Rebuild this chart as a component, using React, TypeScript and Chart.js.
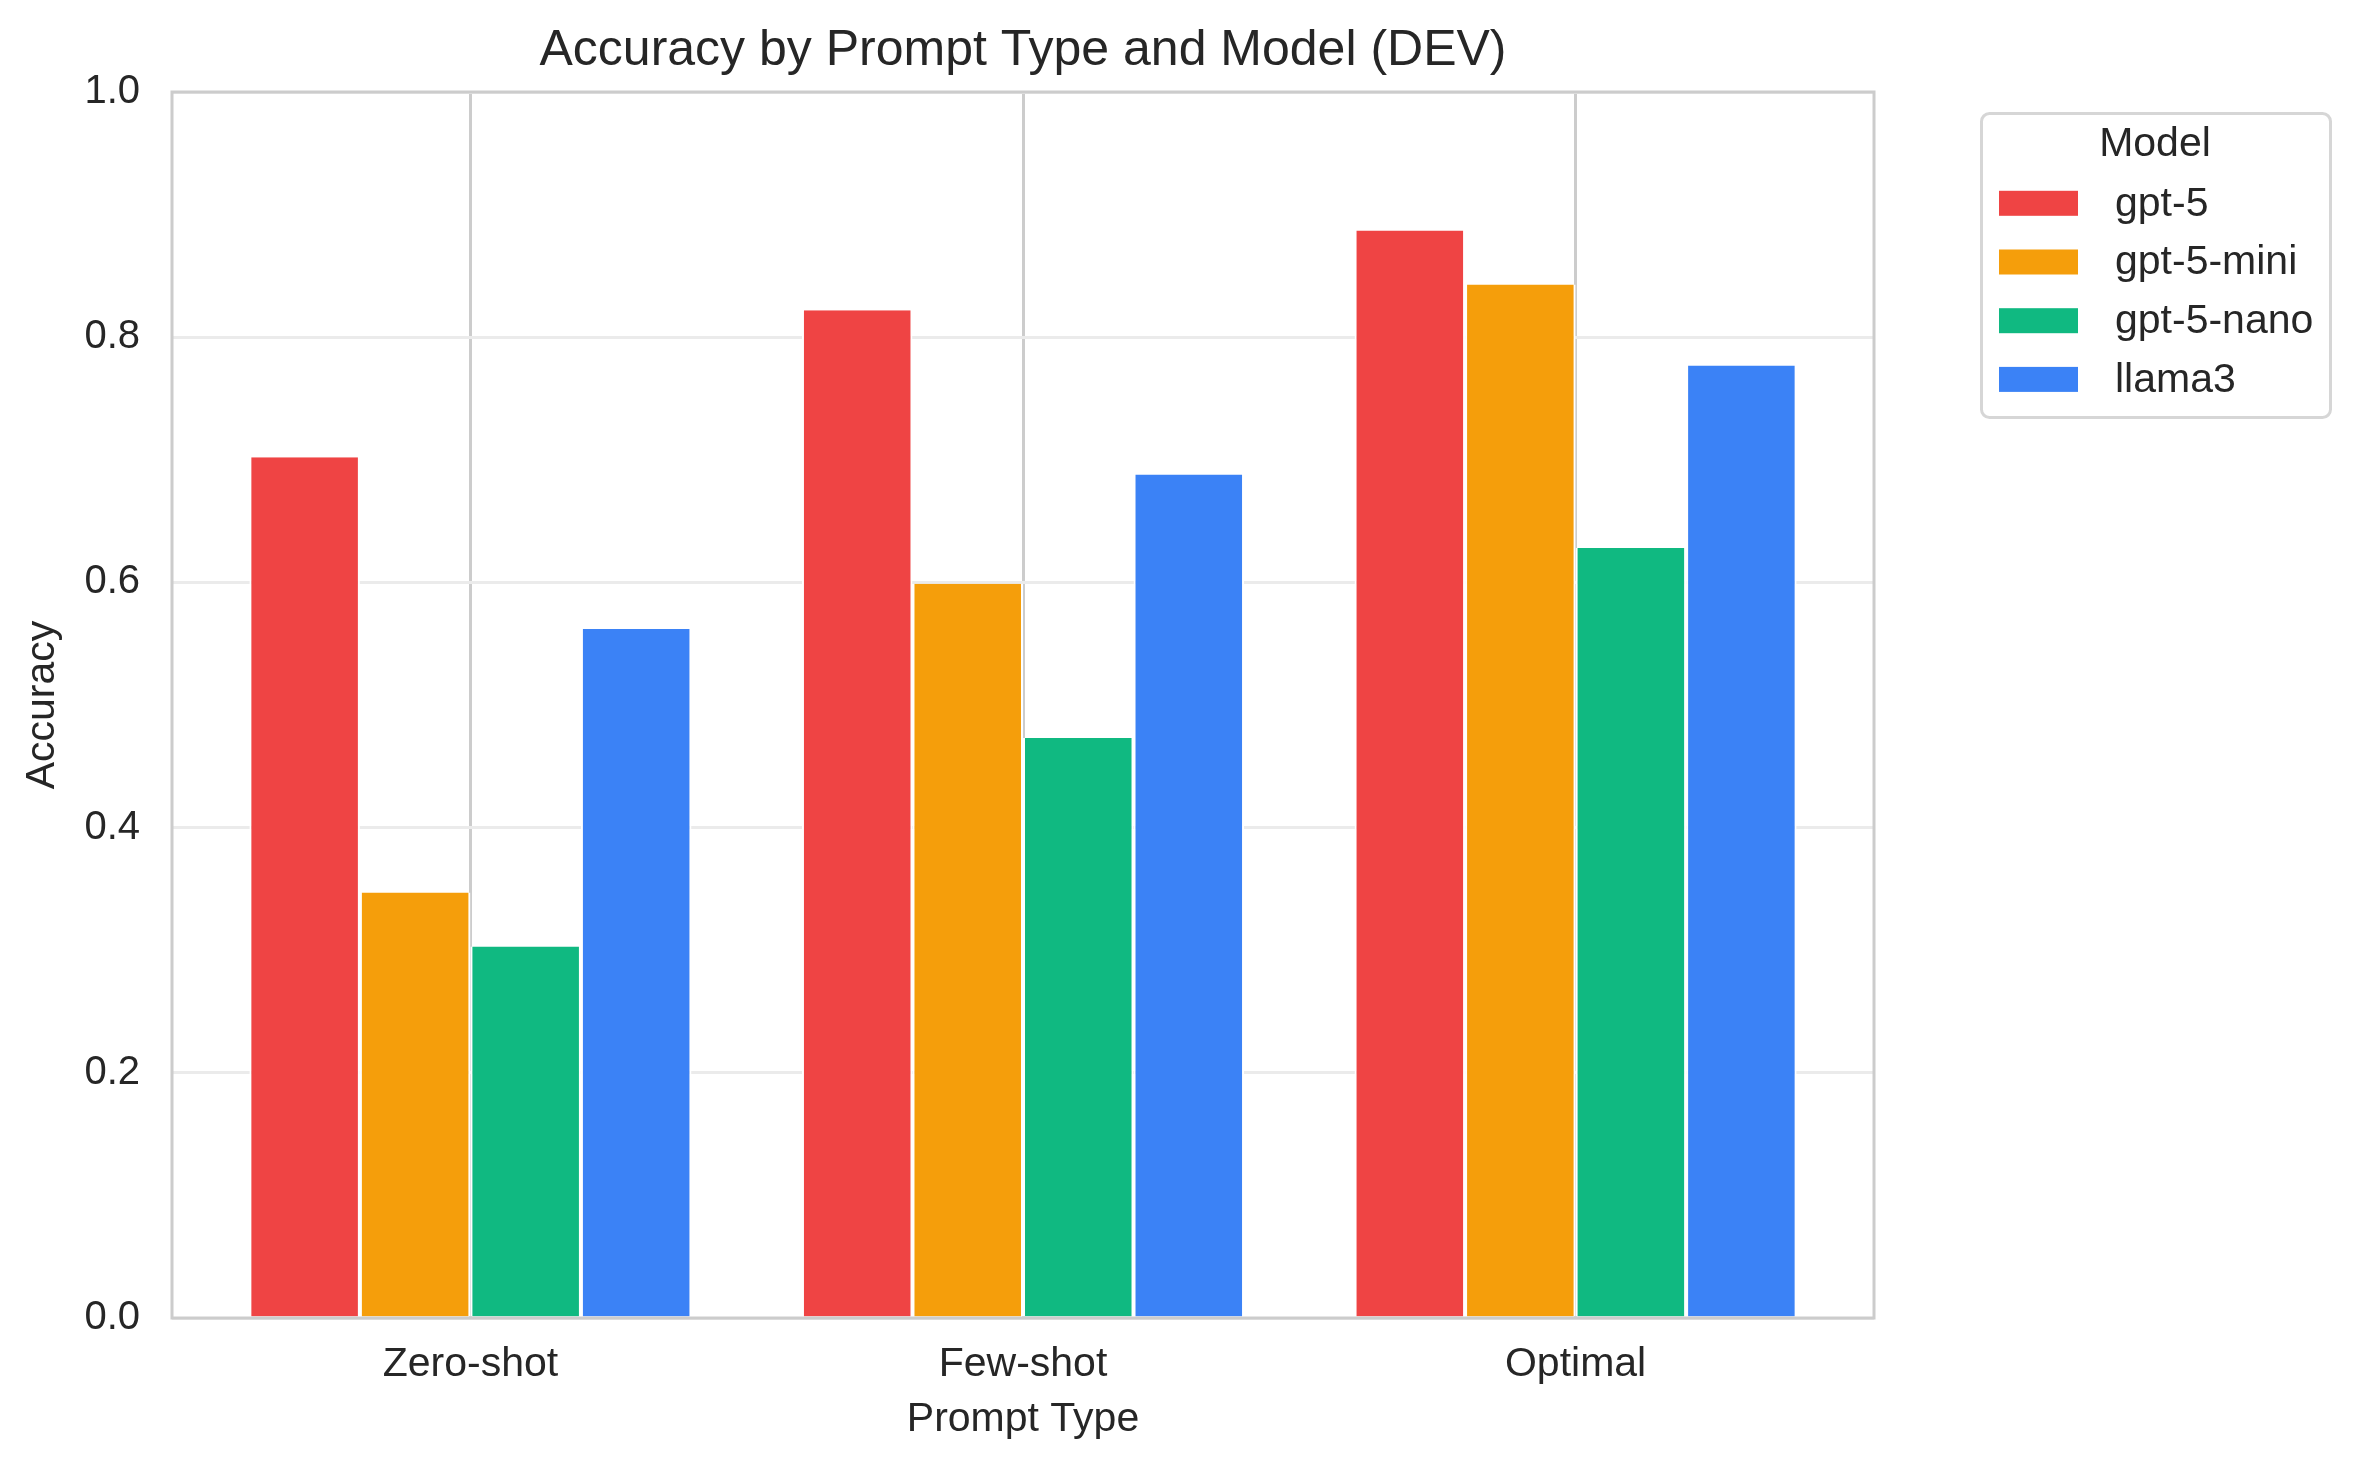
import { useEffect, useRef } from 'react';
import { Chart, registerables } from 'chart.js';

Chart.register(...registerables);

const CATEGORIES = ['Zero-shot', 'Few-shot', 'Optimal'];
const MODELS = ['gpt-5', 'gpt-5-mini', 'gpt-5-nano', 'llama3'];
const GPT5 = [0.702, 0.822, 0.887];
const GPT5_MINI = [0.347, 0.599, 0.843];
const GPT5_NANO = [0.303, 0.473, 0.628];
const LLAMA3 = [0.562, 0.688, 0.777];
const Y_TICKS = [0, 0.2, 0.4, 0.6, 0.8, 1.0];

const SERIES = [GPT5, GPT5_MINI, GPT5_NANO, LLAMA3];
const COLORS = ['#EF4444', '#F59E0B', '#10B981', '#3B82F6'];

const FONT = "'Liberation Sans', Arial, Helvetica, sans-serif";
const TEXT_COLOR = '#262626';

// title, axes frame and the boxed legend on the right
const decorations = {
  id: 'decorations',
  afterDatasetsDraw(chart: any) {
    const { ctx, chartArea: a } = chart;
    ctx.save();
    ctx.strokeStyle = '#cccccc';
    ctx.lineWidth = 3;
    ctx.strokeRect(a.left, a.top, a.right - a.left, a.bottom - a.top);
    ctx.restore();
  },
  afterDraw(chart: any) {
    const { ctx, chartArea: a } = chart;
    ctx.save();
    ctx.fillStyle = TEXT_COLOR;
    ctx.textBaseline = 'middle';

    ctx.font = `50px ${FONT}`;
    ctx.textAlign = 'center';
    ctx.fillText('Accuracy by Prompt Type and Model (DEV)', (a.left + a.right) / 2, 51);

    // legend
    const lx = a.right + 107.5;
    const ly = 113.5;
    const lw = 349;
    const lh = 304;
    ctx.beginPath();
    ctx.roundRect(lx, ly, lw, lh, 8);
    ctx.fillStyle = '#ffffff';
    ctx.fill();
    ctx.strokeStyle = '#d6d6d6';
    ctx.lineWidth = 3;
    ctx.stroke();

    ctx.fillStyle = TEXT_COLOR;
    ctx.font = `41px ${FONT}`;
    ctx.textAlign = 'center';
    ctx.fillText('Model', lx + 173.5, 145);

    ctx.textAlign = 'left';
    MODELS.forEach((name, i) => {
      const cy = 203.3 + i * 58.7;
      ctx.fillStyle = COLORS[i];
      ctx.fillRect(lx + 17.5, cy - 12.5, 79, 25);
      ctx.fillStyle = TEXT_COLOR;
      ctx.fillText(name, lx + 133.5, cy + 1);
    });
    ctx.restore();
  },
};

export default function App() {
  const canvasRef = useRef<HTMLCanvasElement>(null);

  useEffect(() => {
    document.body.style.margin = '0';
    if (!canvasRef.current) return;

    const chart = new Chart(canvasRef.current, {
      type: 'bar',
      data: {
        datasets: MODELS.map((name, i) => ({
          label: name,
          data: SERIES[i].map((y, x) => ({ x, y })),
          backgroundColor: COLORS[i],
          borderColor: '#ffffff',
          borderWidth: { left: 2, right: 2, top: 0, bottom: 0 },
          borderSkipped: false,
          categoryPercentage: 0.8,
          barPercentage: 1.0,
        })),
      },
      options: {
        animation: false,
        responsive: false,
        devicePixelRatio: 1,
        layout: { padding: { top: 92, right: 487, bottom: 0, left: 0 } },
        plugins: {
          legend: { display: false },
          title: { display: false },
          tooltip: { enabled: false },
        },
        scales: {
          x: {
            type: 'linear',
            min: -0.54,
            max: 2.54,
            offset: false,
            afterBuildTicks: (scale: any) => {
              scale.ticks = CATEGORIES.map((_, i) => ({ value: i }));
            },
            afterFit: (scale: any) => {
              scale.height = 152;
            },
            grid: { offset: false, color: '#cccccc', lineWidth: 3, drawTicks: false },
            border: { display: false },
            ticks: {
              padding: 22,
              color: TEXT_COLOR,
              font: { family: FONT, size: 41 },
              callback: (v: any) => CATEGORIES[v] ?? '',
            },
            title: {
              display: true,
              text: 'Prompt Type',
              color: TEXT_COLOR,
              font: { family: FONT, size: 41 },
              padding: { top: 0, bottom: 26 },
            },
          },
          y: {
            min: 0,
            max: 1,
            afterBuildTicks: (scale: any) => {
              scale.ticks = Y_TICKS.map((value) => ({ value }));
            },
            afterFit: (scale: any) => {
              scale.width = 172;
            },
            grid: { color: '#ebebeb', lineWidth: 3, drawTicks: false },
            border: { display: false },
            ticks: {
              padding: 32,
              color: TEXT_COLOR,
              font: { family: FONT, size: 40 },
              callback: (v: any) => Number(v).toFixed(1),
            },
            title: {
              display: true,
              text: 'Accuracy',
              color: TEXT_COLOR,
              font: { family: FONT, size: 41 },
              padding: { top: 18, bottom: 0 },
            },
          },
        },
      },
      plugins: [decorations],
    });

    return () => chart.destroy();
  }, []);

  return (
    <div style={{ width: 2361, height: 1470, background: '#ffffff' }}>
      <canvas ref={canvasRef} width={2361} height={1470} style={{ display: 'block' }} />
    </div>
  );
}
